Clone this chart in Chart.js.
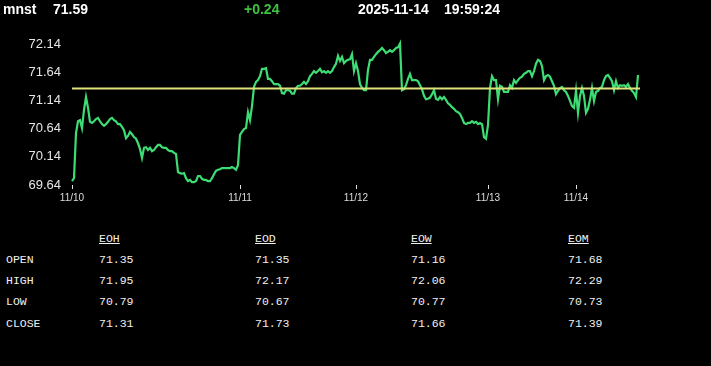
<!DOCTYPE html>
<html><head><meta charset="utf-8">
<script src="https://cdn.jsdelivr.net/npm/chart.js@4.4.0/dist/chart.umd.min.js"></script>
<style>
html,body{margin:0;padding:0;background:#000;}
body{width:711px;height:366px;overflow:hidden;position:relative;font-family:"Liberation Sans",Arial,sans-serif;}
#chart{position:absolute;left:0;top:0;}
.hd{position:absolute;top:2px;font-weight:bold;font-size:14px;line-height:14px;color:#fff;white-space:pre;}
.tb{position:absolute;font-family:"Liberation Mono",monospace;font-size:11.5px;line-height:12px;color:#f0f0f0;white-space:pre;}
.tb.h{text-decoration:underline;}
</style></head>
<body>
<canvas id="chart" width="711" height="215"></canvas>
<div id="header"></div>
<div id="table"></div>
<script>
const symbol = 'mnst';
const lastPrice = '71.59';
const change = '+0.24';
const dateText = '2025-11-14';
const timeText = '19:59:24';
const prevClose = 71.35;

const dayLabels = ['11/10', '11/11', '11/12', '11/13', '11/14'];
const dayStartIndex = [0, 84, 142, 208, 252];
const yTickValues = [69.64, 70.14, 70.64, 71.14, 71.64, 72.14];

const prices = [
  // 11/10
  69.71, 69.76, 70.56, 70.77, 70.79, 70.65, 70.97, 71.20, 71.01, 70.76,
  70.74, 70.77, 70.81, 70.83, 70.77, 70.72, 70.69, 70.72, 70.76, 70.81,
  70.83, 70.79, 70.77, 70.72, 70.72, 70.67, 70.61, 70.47, 70.51, 70.58,
  70.54, 70.49, 70.46, 70.38, 70.28, 70.12, 70.30, 70.31, 70.26, 70.30,
  70.24, 70.26, 70.31, 70.35, 70.35, 70.31, 70.30, 70.30, 70.26, 70.24,
  70.24, 70.21, 70.19, 69.87, 69.85, 69.84, 69.85,
  69.76, 69.71, 69.73, 69.69, 69.69, 69.71, 69.80, 69.80, 69.75, 69.73,
  69.73, 69.71, 69.71, 69.76, 69.83, 69.89, 69.91, 69.92, 69.94, 69.94,
  69.94, 69.94, 69.94, 69.96, 69.94, 69.91, 69.99,
  // 11/11
  70.53, 70.58, 70.63,
  70.65, 70.93, 70.79, 71.04, 71.38, 71.47, 71.50, 71.57, 71.70, 71.70,
  71.71, 71.52, 71.52, 71.48, 71.43, 71.43, 71.43, 71.40, 71.27, 71.26,
  71.32, 71.32, 71.31, 71.26, 71.26, 71.36, 71.40, 71.40,
  71.43, 71.47, 71.43, 71.48, 71.57, 71.61, 71.66, 71.63, 71.66, 71.70,
  71.64, 71.66, 71.63, 71.66, 71.63, 71.66, 71.73, 71.79, 71.93, 71.84,
  71.91, 71.80, 71.84, 71.86, 71.87, 71.96, 71.66,
  // 11/12
  71.80, 71.66, 71.43,
  71.36, 71.32, 71.32, 71.68, 71.86, 71.86, 71.91, 71.96, 72.00, 72.03,
  72.07, 72.03, 71.98, 72.00, 72.03, 72.00, 72.03, 72.07, 72.08, 72.15,
  71.32, 71.34, 71.41, 71.52, 71.61, 71.50, 71.50,
  71.50, 71.48, 71.41, 71.34, 71.22, 71.16, 71.17, 71.19, 71.25, 71.32,
  71.17, 71.15, 71.20, 71.16, 71.20, 71.15, 71.09, 71.06, 71.02, 70.99,
  70.95, 70.93, 70.90, 70.83, 70.74, 70.72, 70.74, 70.74, 70.77, 70.74,
  70.76, 70.72, 70.74, 70.72, 70.49, 70.46,
  // 11/13
  70.70, 71.36, 71.57, 71.50,
  71.50, 71.16, 71.40, 71.38, 71.29, 71.29, 71.29, 71.41, 71.36, 71.50,
  71.45, 71.50, 71.54, 71.56, 71.61, 71.63, 71.66, 71.66,
  71.57, 71.66, 71.79, 71.86, 71.84, 71.75, 71.50, 71.57, 71.59, 71.56,
  71.48, 71.40, 71.25, 71.31, 71.36, 71.38, 71.32, 71.29, 71.22, 71.13,
  71.04, 71.01,
  // 11/14
  71.31, 70.92, 71.22, 71.36, 71.22, 70.92, 70.99, 71.15,
  71.36, 71.13, 71.29, 71.31, 71.36, 71.38, 71.50, 71.57, 71.59, 71.54,
  71.48, 71.32, 71.48, 71.36, 71.41, 71.40, 71.41, 71.38, 71.43, 71.36,
  71.31, 71.27, 71.20, 71.59
];

const tableColumns = ['EOH', 'EOD', 'EOW', 'EOM'];
const tableRows = ['OPEN', 'HIGH', 'LOW', 'CLOSE'];
const eohValues = ['71.35', '71.95', '70.79', '71.31'];
const eodValues = ['71.35', '72.17', '70.67', '71.73'];
const eowValues = ['71.16', '72.06', '70.77', '71.66'];
const eomValues = ['71.68', '72.29', '70.73', '71.39'];
const tableValues = [eohValues, eodValues, eowValues, eomValues];

// header
const header = document.getElementById('header');
const headerItems = [
  [symbol, 3, '#ffffff'],
  [lastPrice, 53, '#ffffff'],
  [change, 244, '#3fc23f'],
  [dateText, 358, '#ffffff'],
  [timeText, 444, '#ffffff']
];
headerItems.forEach(([t, x, c]) => {
  const s = document.createElement('div');
  s.className = 'hd'; s.textContent = t; s.style.left = x + 'px'; s.style.color = c;
  header.appendChild(s);
});

// table
const table = document.getElementById('table');
const colX = [99, 255, 411, 568];
const rowY = [260, 281, 302, 324];
function addCell(text, x, cy, cls) {
  const d = document.createElement('div');
  d.className = 'tb' + (cls ? ' ' + cls : '');
  d.textContent = text; d.style.left = x + 'px'; d.style.top = (cy - 6) + 'px';
  table.appendChild(d);
}
tableColumns.forEach((c, i) => addCell(c, colX[i], 239, 'h'));
tableRows.forEach((r, j) => {
  addCell(r, 6, rowY[j]);
  tableValues.forEach((col, i) => addCell(col[j], colX[i], rowY[j]));
});

// chart
const ctx = document.getElementById('chart').getContext('2d');
new Chart(ctx, {
  type: 'line',
  data: {
    datasets: [
      {
        label: 'prev close',
        data: [{x: 0, y: prevClose}, {x: prices.length, y: prevClose}],
        borderColor: '#dfe27a', borderWidth: 2, pointRadius: 0, order: 0
      },
      {
        label: symbol,
        data: prices.map((v, i) => ({x: i, y: v})),
        borderColor: '#3ddc74', borderWidth: 2.2, pointRadius: 0, order: 1,
        tension: 0, clip: false
      }
    ]
  },
  options: {
    responsive: false, animation: false, devicePixelRatio: 1,
    layout: {padding: {left: 0, right: 71, top: 44, bottom: 0}},
    plugins: {legend: {display: false}, tooltip: {enabled: false}},
    scales: {
      x: {
        type: 'linear', min: 0, max: prices.length,
        afterBuildTicks: s => { s.ticks = dayStartIndex.map(v => ({value: v})); },
        afterFit: s => { s.height = 30; },
        grid: {display: true, drawOnChartArea: false, drawTicks: true, tickLength: 4, color: '#e0e0e0'},
        border: {display: false},
        ticks: {
          color: '#dddddd', font: {family: 'Liberation Sans', size: 10}, padding: 3,
          maxRotation: 0, autoSkip: false,
          callback: v => { const k = dayStartIndex.indexOf(v); return k >= 0 ? dayLabels[k] : ''; }
        }
      },
      y: {
        min: yTickValues[0], max: yTickValues[yTickValues.length - 1],
        afterBuildTicks: s => { s.ticks = yTickValues.map(v => ({value: v})); },
        afterFit: s => { s.width = 72; },
        grid: {display: false, drawTicks: false},
        border: {display: false},
        ticks: {
          color: '#e6e6e6', font: {family: 'Liberation Sans', size: 13}, padding: 11,
          callback: v => Number(v).toFixed(2)
        }
      }
    }
  }
});
</script>
</body></html>
